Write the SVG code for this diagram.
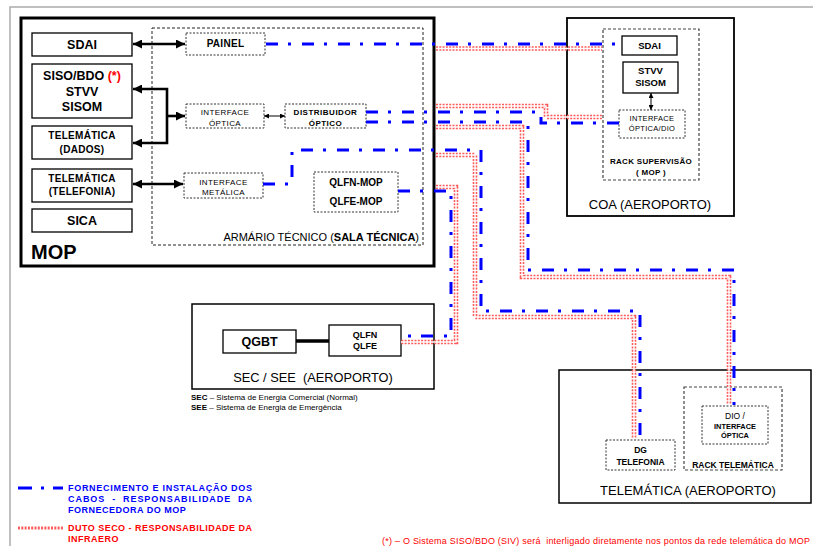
<svg xmlns="http://www.w3.org/2000/svg" width="813" height="546" viewBox="0 0 813 546">
<defs>
<style>
text{font-family:"Liberation Sans",Arial,sans-serif;fill:#000}
.b{font-weight:bold}
.c{text-anchor:middle}
.box{fill:#fff;stroke:#000;stroke-width:1.3}
.dbox{fill:#fff;stroke:#333;stroke-width:1;stroke-dasharray:2 1.5}
.arm{fill:none;stroke:#222;stroke-width:1;stroke-dasharray:3 2}
.rack{fill:none;stroke:#444;stroke-width:1.2;stroke-dasharray:3 2}
.blue{fill:none;stroke:#0000ff;stroke-width:3;stroke-dasharray:12 10 3 11}
.duct{fill:none;stroke:#ff5a5a;stroke-width:4.6;stroke-dasharray:2 1.3}
.ductc{fill:none;stroke:#fff;stroke-width:1.4}
.ar{fill:none;stroke:#000;stroke-width:2.6}
.ars{fill:none;stroke:#000;stroke-width:1}
</style>
<marker id="ah" markerUnits="userSpaceOnUse" viewBox="0 0 10 10" refX="10" refY="5" markerWidth="9" markerHeight="9" orient="auto-start-reverse"><path d="M0,0 L10,5 L0,10 z" fill="#000"/></marker>
<marker id="ahs" markerUnits="userSpaceOnUse" viewBox="0 0 10 10" refX="10" refY="5" markerWidth="5" markerHeight="5" orient="auto-start-reverse"><path d="M0,0 L10,5 L0,10 z" fill="#000"/></marker>
</defs>

<!-- page frame -->
<path d="M10,546 V7 H813" fill="none" stroke="#aaa" stroke-width="1.5"/>

<!-- MOP -->
<g id="mop">
<rect x="21" y="18" width="413" height="248" fill="#fff" stroke="#000" stroke-width="3"/>
<text x="31" y="259" class="b" font-size="20">MOP</text>
</g>
<g id="armario">
<rect class="arm" x="152" y="28" width="271" height="217"/>
<text x="419" y="241" font-size="11" text-anchor="end">ARMÁRIO TÉCNICO (<tspan class="b">SALA TÉCNICA</tspan>)</text>
</g>
<g id="sdai"><rect class="box" x="32" y="33" width="100" height="23"/><text x="82" y="49" class="b c" font-size="12.5">SDAI</text></g>
<g id="siso"><rect class="box" x="32" y="64" width="100" height="54"/>
<text x="82" y="80" class="b c" font-size="12.5">SISO/BDO <tspan fill="#ff0000">(*)</tspan></text>
<text x="82" y="96" class="b c" font-size="12.5">STVV</text>
<text x="82" y="111" class="b c" font-size="12.5">SISOM</text></g>
<g id="teldados"><rect class="box" x="32" y="126" width="100" height="33"/>
<text x="82" y="139" class="b c" font-size="10" letter-spacing="0.3">TELEMÁTICA</text>
<text x="82" y="153" class="b c" font-size="10" letter-spacing="0.3">(DADOS)</text></g>
<g id="teltel"><rect class="box" x="32" y="169" width="100" height="33"/>
<text x="82" y="182" class="b c" font-size="10" letter-spacing="0.3">TELEMÁTICA</text>
<text x="82" y="195" class="b c" font-size="10" letter-spacing="0.3">(TELEFONIA)</text></g>
<g id="sica"><rect class="box" x="32" y="209" width="100" height="23"/><text x="82" y="225" class="b c" font-size="12.5">SICA</text></g>

<g id="painel"><rect class="dbox" x="186" y="33" width="79" height="22"/><text x="225.5" y="47" class="b c" font-size="10" letter-spacing="0.3">PAINEL</text></g>
<g id="intopt"><rect class="dbox" x="186" y="104" width="78" height="24"/>
<text x="225" y="115" class="c" font-size="8" letter-spacing="0.4">INTERFACE</text>
<text x="225" y="125.5" class="c" font-size="8" letter-spacing="0.4">ÓPTICA</text></g>
<g id="distrib"><rect class="dbox" x="285" y="104" width="81" height="24"/>
<text x="325.5" y="115" class="b c" font-size="8" letter-spacing="0.5">DISTRIBUIDOR</text>
<text x="325.5" y="125.5" class="b c" font-size="8" letter-spacing="0.5">ÓPTICO</text></g>
<g id="intmet"><rect class="dbox" x="184" y="173" width="79" height="25"/>
<text x="223.5" y="185" class="c" font-size="8" letter-spacing="0.4">INTERFACE</text>
<text x="223.5" y="195" class="c" font-size="8" letter-spacing="0.4">METÁLICA</text></g>
<g id="qlfnmop"><rect class="dbox" x="314" y="172" width="84" height="40"/>
<text x="356" y="186" class="b c" font-size="10">QLFN-MOP</text>
<text x="356" y="205" class="b c" font-size="10">QLFE-MOP</text></g>

<!-- COA -->
<g id="coa">
<rect x="567" y="18" width="167" height="198" fill="#fff" stroke="#000" stroke-width="1.8"/>
<text x="650" y="209" class="c" font-size="13">COA (AEROPORTO)</text>
</g>
<g id="racksup">
<rect class="rack" x="603" y="29" width="96" height="151"/>
<text x="651" y="164" class="b c" font-size="8" letter-spacing="0.3">RACK SUPERVISÃO</text>
<text x="651" y="175" class="b c" font-size="8" letter-spacing="0.3">( MOP )</text>
</g>
<g id="coasdai"><rect class="box" x="622" y="36" width="55" height="19"/><text x="649.5" y="48.5" class="b c" font-size="9.5">SDAI</text></g>
<g id="coastvv"><rect class="box" x="623" y="62" width="55" height="31"/>
<text x="650.5" y="74" class="b c" font-size="9.5">STVV</text>
<text x="650.5" y="86" class="b c" font-size="9.5">SISOM</text></g>
<g id="coadio"><rect class="dbox" x="619" y="110" width="66" height="28"/>
<text x="652" y="120.5" class="c" font-size="7.5" letter-spacing="0.3">INTERFACE</text>
<text x="652" y="130.5" class="c" font-size="7.5" letter-spacing="0.3">ÓPTICA/DIO</text></g>

<!-- SEC/SEE -->
<g id="sec">
<rect x="192" y="304" width="242" height="85" fill="#fff" stroke="#000" stroke-width="1.5"/>
<text x="313" y="381.5" class="c" font-size="12.8" xml:space="preserve">SEC / SEE  (AEROPORTO)</text>
</g>
<g id="qgbt"><rect class="box" x="223" y="330" width="73" height="23"/><text x="259.5" y="346" class="b c" font-size="12.5">QGBT</text></g>
<g id="qlfn"><rect class="box" x="329" y="325" width="72" height="31"/>
<text x="365" y="337.5" class="b c" font-size="9">QLFN</text>
<text x="365" y="349" class="b c" font-size="9">QLFE</text></g>
<g id="secnotes">
<text x="191" y="400" font-size="8"><tspan class="b">SEC</tspan> – Sistema de Energia Comercial (Normal)</text>
<text x="191" y="410" font-size="8"><tspan class="b">SEE</tspan> – Sistema de Energia de Emergência</text>
</g>

<!-- TELEMATICA -->
<g id="telem">
<rect x="559" y="370" width="252" height="133" fill="#fff" stroke="#000" stroke-width="1.5"/>
<text x="688" y="495" class="c" font-size="13">TELEMÁTICA (AEROPORTO)</text>
</g>
<g id="dg"><rect class="dbox" x="606" y="440" width="69" height="30"/>
<text x="640.5" y="453" class="b c" font-size="8.5">DG</text>
<text x="640.5" y="464.5" class="b c" font-size="8.5">TELEFONIA</text></g>
<g id="racktel"><rect class="rack" x="684" y="387" width="98" height="83"/>
<text x="733" y="467.5" class="b c" font-size="8.5">RACK TELEMÁTICA</text></g>
<g id="dio"><rect x="702" y="406" width="66" height="38" fill="#fff" stroke="#333" stroke-width="1" stroke-dasharray="2 1.5"/>
<text x="735" y="419" class="c" font-size="8.5">DIO /</text>
<text x="735" y="428.5" class="b c" font-size="7.4">INTERFACE</text>
<text x="735" y="437.5" class="b c" font-size="7.4">ÓPTICA</text></g>

<!-- connectors -->
<g id="connectors">
<g id="ducts">
<path class="duct" d="M436,48.5 H602"/>
<path class="duct" d="M436,106 H546 V117 H602"/>
<path class="duct" d="M436,127 H522 V277 H729 V404"/>
<path class="duct" d="M436,155 H475 V317 H634 V438"/>
<path class="duct" d="M436,187 H456 V342 H401"/>
<path class="ductc" d="M436,48.5 H602"/>
<path class="ductc" d="M436,106 H546 V117 H602"/>
<path class="ductc" d="M436,127 H522 V277 H729 V404"/>
<path class="ductc" d="M436,155 H475 V317 H634 V438"/>
<path class="ductc" d="M436,187 H456 V342 H401"/>
</g>
<g id="cables">
<path class="blue" d="M266,44 H622"/>
<path class="blue" d="M366,112 H541 V123 H619"/>
<path class="blue" d="M366,122 H528 V270 H734 V405"/>
<path class="blue" d="M263,184 H292 V150 H481 V311 H640 V436"/>
<path class="blue" d="M398,191 H451 V336 H401"/>
</g>
<path class="ar" d="M133,44 H185" marker-start="url(#ah)" marker-end="url(#ah)"/>
<path class="ar" d="M133,89 H167 V143 H133" marker-start="url(#ah)" marker-end="url(#ah)"/>
<path class="ar" d="M167,116 H185" marker-end="url(#ah)"/>
<path class="ars" d="M264,116 H285" marker-start="url(#ahs)" marker-end="url(#ahs)"/>
<path class="ar" d="M133,184 H183" marker-start="url(#ah)" marker-end="url(#ah)"/>
<path class="ars" d="M651,93 V110" marker-start="url(#ahs)" marker-end="url(#ahs)"/>
<path d="M296,341 H329" stroke="#000" stroke-width="3.5"/>
</g>

<!-- legend -->
<g id="legend">
<path d="M18,488 H63" fill="none" stroke="#0000ff" stroke-width="3" stroke-dasharray="14 9 3 9"/>
<text x="68" y="491" class="b" font-size="9" style="fill:#0000ff" textLength="184" lengthAdjust="spacing">FORNECIMENTO E INSTALAÇÃO DOS</text>
<text x="68" y="502" class="b" font-size="9" style="fill:#0000ff" textLength="184" lengthAdjust="spacing" xml:space="preserve">CABOS  -  RESPONSABILIDADE  DA</text>
<text x="68" y="513" class="b" font-size="9" style="fill:#0000ff" letter-spacing="0.5">FORNECEDORA DO MOP</text>
<path d="M18,528 H63" fill="none" stroke="#ff5a5a" stroke-width="3" stroke-dasharray="2 1.3"/>
<text x="68" y="531" class="b" font-size="9" style="fill:#ff0000" textLength="184" lengthAdjust="spacing">DUTO SECO - RESPONSABILIDADE DA</text>
<text x="68" y="542" class="b" font-size="9" style="fill:#ff0000" letter-spacing="0.5">INFRAERO</text>
</g>
<text x="382" y="543.5" font-size="9" style="fill:#ff0000" textLength="428" lengthAdjust="spacing" xml:space="preserve">(*) – O Sistema SISO/BDO (SIV) será  interligado diretamente nos pontos da rede telemática do MOP</text>
</svg>
